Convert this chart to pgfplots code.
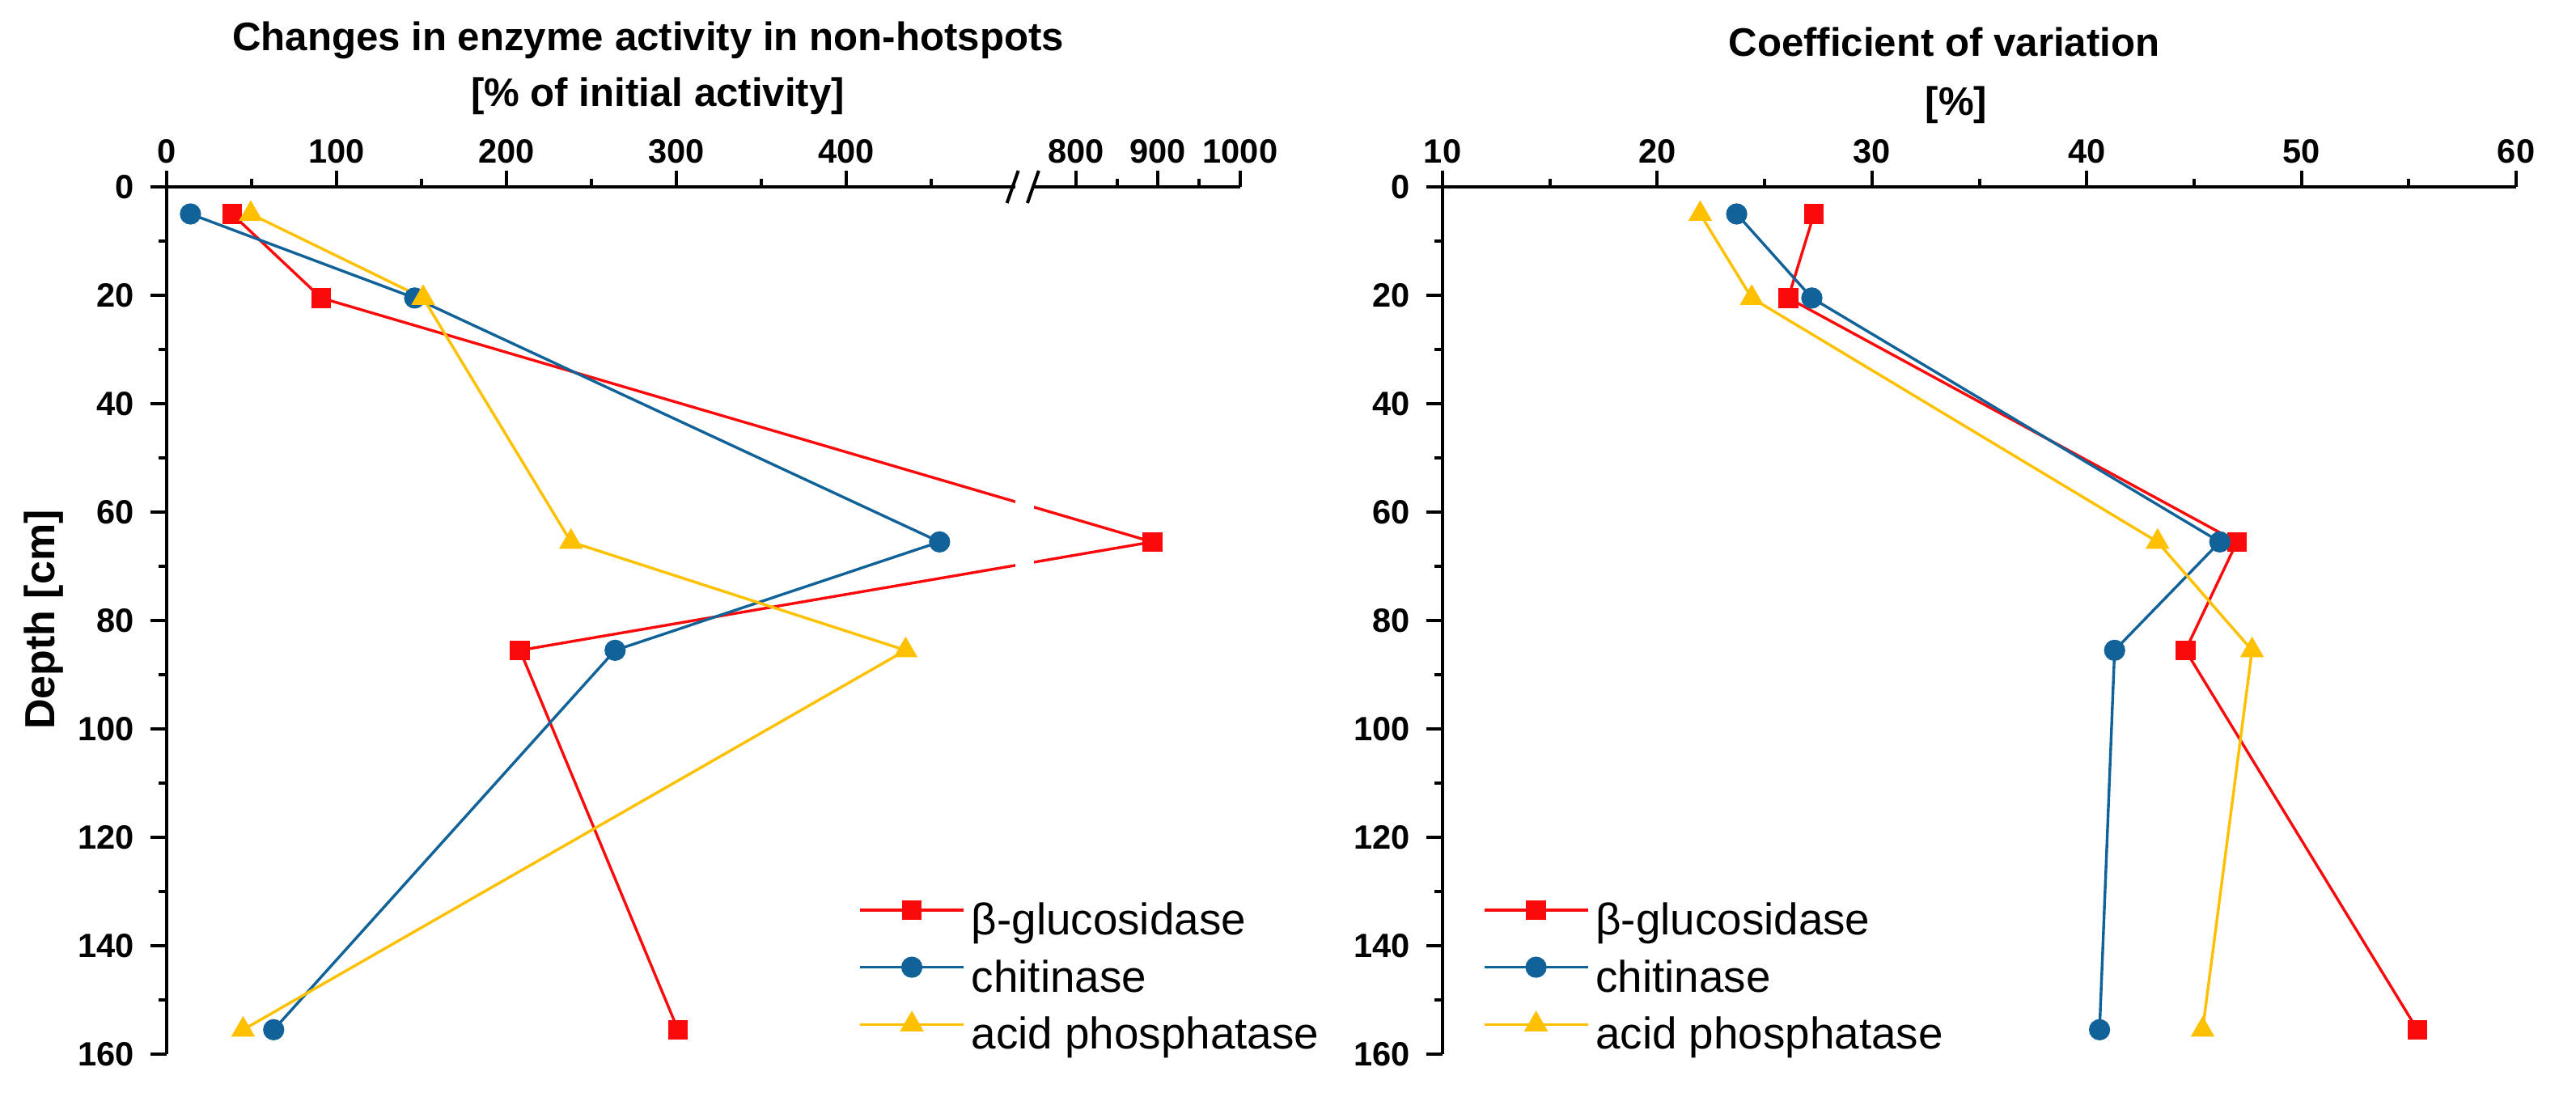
\documentclass[border=0pt]{standalone}
\usepackage{fontspec}
\setmainfont{Liberation Sans}
\usepackage{pgfplots}
\pgfplotsset{compat=1.18}

\definecolor{cred}{RGB}{250,10,10}
\definecolor{cblue}{RGB}{16,98,153}
\definecolor{cyel}{RGB}{255,192,0}

\pgfplotsset{
  depthaxis/.style={
    scale only axis, width=331.75pt, height=268pt,
    y dir=reverse, ymin=0, ymax=160,
    ytick={0,20,...,160}, minor y tick num=1,
    axis x line*=top, axis y line*=left,
    axis line style={-, line width=1pt, black},
    every tick/.style={black, line width=1pt},
    tick align=outside,
    major tick length=5pt, minor tick length=2.4pt,
    tick label style={font=\fontsize{10.4}{12}\selectfont\bfseries},
    /pgf/number format/assume math mode=true,
    yticklabel style={xshift=-1.5pt},
    xticklabel style={yshift=-1.25pt},
    clip=false,
    legend cell align=left,
    legend style={draw=none, fill=none, inner sep=0pt, row sep=2.25pt,
      font=\fontsize{13.7}{16}\selectfont,
      column 2/.style={text height=9pt, text depth=3pt, inner ysep=0pt, inner xsep=3.75pt}},
    legend image code/.code={\draw[mark repeat=2,mark phase=2,#1] plot coordinates {(0pt,3.4pt) (16pt,3.4pt) (32pt,3.4pt)};},
  },
  sred/.style={color=cred, line width=0.85pt, mark=square*, mark size=2.65pt},
  sblue/.style={color=cblue, line width=0.85pt, mark=*, mark size=2.85pt},
  syel/.style={color=cyel, line width=0.85pt, mark=triangle*, mark size=3.4pt},
}

\begin{document}
\begin{tikzpicture}
% ---------- left panel: changes in enzyme activity ----------
\begin{axis}[depthaxis,
  at={(0pt,0pt)}, anchor=south west,
  x coord trafo/.code={\pgfmathparse{#1<600 ? #1 : 511+(#1-750)*0.484}},
  xmin=0, xmax=1000,
  xtick={0,100,200,300,400,800,900,1000},
  xticklabels={0,100,200,300,400,800,900,1000},
  minor xtick={50,150,250,350,450,850,950},
  legend style={at={(0.644,0.183)}, anchor=north west},
]
\addplot[sred] coordinates {(38.5,5) (91,20.5) (893,65.5) (208,85.5) (301,155.5)};
\addlegendentry{β-glucosidase}
\addplot[sblue] coordinates {(14,5) (146,20.5) (455,65.5) (264,85.5) (63,155.5)};
\addlegendentry{chitinase}
\addplot[syel] coordinates {(49.5,5) (151,20.5) (238,65.5) (435,85.5) (45,155.5)};
\addlegendentry{acid phosphatase}
% axis break
\fill[white] (axis cs:499.5,-1.2) rectangle (axis cs:749,161);
\draw[line width=1pt] ([xshift=-1.75pt,yshift=-5pt]axis cs:498,0) -- ([xshift=1.75pt,yshift=5pt]axis cs:498,0);
\draw[line width=1pt] ([xshift=-1.75pt,yshift=-5pt]axis cs:748,0) -- ([xshift=1.75pt,yshift=5pt]axis cs:748,0);
\end{axis}

% ---------- right panel: coefficient of variation ----------
\begin{axis}[depthaxis,
  at={(394.25pt,0pt)}, anchor=south west,
  xmin=10, xmax=60,
  xtick={10,20,...,60},
  minor xtick={15,25,...,55},
  legend style={at={(0.037,0.183)}, anchor=north west},
]
\addplot[sred] coordinates {(27.3,5) (26.1,20.5) (47.0,65.5) (44.6,85.5) (55.4,155.5)};
\addlegendentry{β-glucosidase}
\addplot[sblue] coordinates {(23.7,5) (27.2,20.5) (46.2,65.5) (41.3,85.5) (40.6,155.5)};
\addlegendentry{chitinase}
\addplot[syel] coordinates {(22.0,5) (24.4,20.5) (43.3,65.5) (47.7,85.5) (45.4,155.5)};
\addlegendentry{acid phosphatase}
\end{axis}

% titles and labels
\node[anchor=base, font=\fontsize{12.3}{14}\selectfont\bfseries] at (148.75pt,310pt) {Changes in enzyme activity in non-hotspots};
\node[anchor=base, font=\fontsize{12.3}{14}\selectfont\bfseries] at (151.75pt,292.75pt) {[\% of initial activity]};
\node[anchor=base, font=\fontsize{12.3}{14}\selectfont\bfseries] at (549.25pt,308.25pt) {Coefficient of variation};
\node[anchor=base, font=\fontsize{12.3}{14}\selectfont\bfseries] at (553pt,290pt) {[\%]};
\node[rotate=90, font=\fontsize{13}{15}\selectfont\bfseries] at (-38pt,134.25pt) {Depth [cm]};

\pgfresetboundingbox
\path (-51.5pt,-13.25pt) rectangle (744.5pt,325.75pt);
\end{tikzpicture}
\end{document}
